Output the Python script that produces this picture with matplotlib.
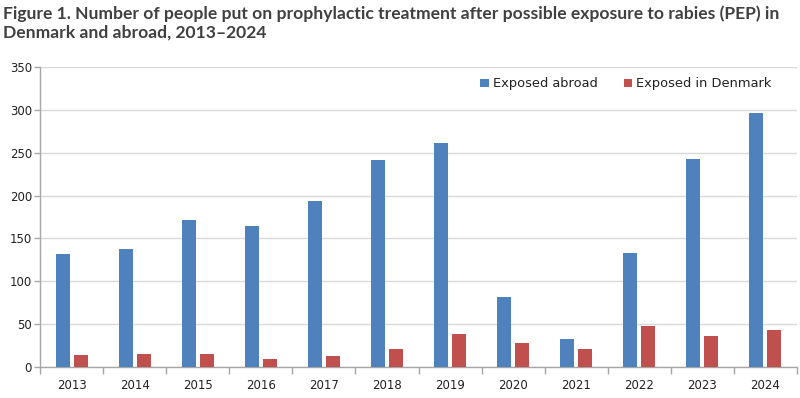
import matplotlib
matplotlib.use("Agg")
import matplotlib.pyplot as plt
import numpy as np
from matplotlib.ticker import FixedLocator, NullFormatter

years = ["2013", "2014", "2015", "2016", "2017", "2018", "2019", "2020", "2021", "2022", "2023", "2024"]
exposed_abroad = [132, 138, 172, 165, 194, 242, 261, 82, 33, 133, 243, 296]
exposed_denmark = [14, 15, 15, 9, 13, 21, 38, 28, 21, 48, 36, 43]
series_names = ["Exposed abroad", "Exposed in Denmark"]
title = ("Figure 1. Number of people put on prophylactic treatment after possible exposure to rabies (PEP) in\n"
         "Denmark and abroad, 2013\u20132024")

plt.rcParams['font.family'] = ['DejaVu Sans']

fig = plt.figure(figsize=(8.0, 3.98), dpi=100)
ax = fig.add_axes([0.0504, 0.0779, 0.9455, 0.7538])

x = np.arange(len(years))
w = 0.222
off = 0.143
ax.bar(x - off, exposed_abroad, width=w, color="#4F81BD", label=series_names[0], zorder=3)
ax.bar(x + off, exposed_denmark, width=w, color="#C0504D", label=series_names[1], zorder=3)

ax.set_xlim(-0.5, len(years) - 0.5)
ax.set_ylim(0, 350)
ax.set_yticks(np.arange(0, 351, 50))
ax.yaxis.grid(True, color="#D9D9D9", linewidth=1.0, zorder=0)
ax.set_axisbelow(True)

# category boundaries as major ticks, labels at centers
ax.xaxis.set_major_locator(FixedLocator(np.arange(-0.5, len(years), 1.0)))
ax.xaxis.set_major_formatter(NullFormatter())
ax.xaxis.set_minor_locator(FixedLocator(x))
ax.set_xticklabels(years, minor=True)
ax.tick_params(axis='x', which='major', length=5, color="#A6A6A6", width=1)
ax.tick_params(axis='x', which='minor', length=0, pad=9, labelsize=8.5, labelcolor="#222222")
ax.tick_params(axis='y', length=4, color="#A6A6A6", width=1, pad=2, labelsize=8.5, labelcolor="#222222")

for s in ["top", "right"]:
    ax.spines[s].set_visible(False)
for s in ["left", "bottom"]:
    ax.spines[s].set_color("#A6A6A6")
    ax.spines[s].set_linewidth(1.0)

leg = ax.legend(ncol=2, loc="center", bbox_to_anchor=(0.7825, 0.789), bbox_transform=fig.transFigure,
                frameon=False, fontsize=9.4, handlelength=0.65, handleheight=0.65,
                handletextpad=0.3, columnspacing=2.0)
for t in leg.get_texts():
    t.set_color("#222222")

fig.text(0.004, 0.987, title, ha="left", va="top", fontsize=12.6, fontweight="bold",
         family=["Lato", "DejaVu Sans"], color="#404040", linespacing=1.25)

fig.savefig("out.png", dpi=100, facecolor="white")
